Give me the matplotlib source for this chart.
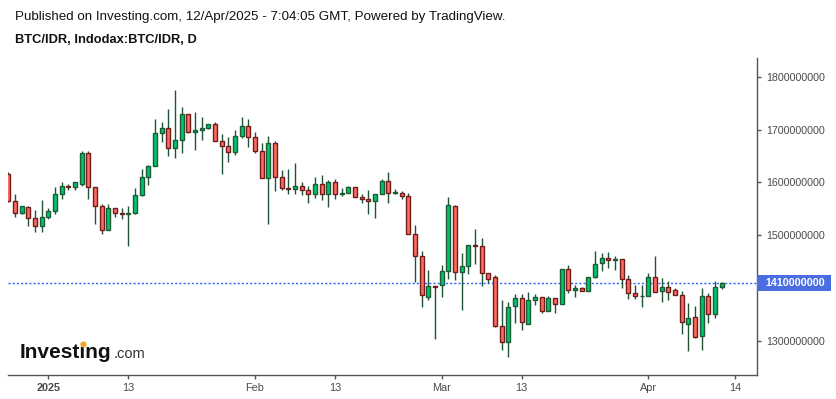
import numpy as np
import matplotlib
matplotlib.use('Agg')
import matplotlib.pyplot as plt
from matplotlib.patches import Rectangle

plt.rcParams['font.family'] = ['Liberation Sans', 'DejaVu Sans']

# ---------------- data (IDR, millions) ----------------
start_date = '2024-12-26'
opens = [1617, 1565, 1541.5, 1553, 1532, 1517, 1534, 1545, 1579, 1593, 1591, 1598, 1656, 1591, 1555, 1509,
         1551, 1541.5, 1539.5, 1543, 1576, 1610, 1631, 1693, 1703, 1665, 1680, 1729, 1695, 1699, 1703, 1710,
         1678, 1668.5, 1657, 1687.5, 1708, 1686, 1659, 1608, 1674, 1610, 1589, 1587, 1592.6, 1585, 1579, 1598,
         1577.5, 1600, 1577.5, 1581, 1591, 1572, 1568, 1564, 1579, 1602, 1581, 1581, 1574, 1501.7, 1460, 1382,
         1403, 1405, 1431.5, 1554.8, 1429.6, 1441, 1480.8, 1479, 1427.7, 1420, 1327.2, 1296.9, 1365, 1380.3,
         1331, 1376.5, 1382.2, 1355.7, 1380.3, 1368.9, 1435.3, 1395.5, 1399.2, 1393.6, 1420.1, 1446.7, 1456.1,
         1452.3, 1454.2, 1416.3, 1389.8, 1384.1, 1384.1, 1420.1, 1393.6, 1401.1, 1395.5, 1386, 1331, 1344.3,
         1308.2, 1384.1, 1349.9, 1401.1]
highs = [1620, 1579, 1556, 1555, 1548, 1567, 1551, 1591, 1601, 1597, 1601, 1660, 1660, 1591, 1560, 1560,
         1551, 1551, 1555, 1589, 1626, 1634, 1720, 1714, 1739, 1775, 1742.5, 1729, 1733, 1725, 1711, 1714,
         1691, 1686, 1699, 1725, 1720, 1695, 1674, 1687.5, 1678, 1623, 1625, 1636, 1600, 1592.6, 1610, 1613.5,
         1604, 1606, 1589, 1592.6, 1591, 1579, 1585, 1579, 1606, 1619, 1587, 1583, 1579.4, 1518.7, 1469.4, 1435,
         1404, 1443, 1571.8, 1556.7, 1465.6, 1481, 1511, 1494, 1427.7, 1424, 1376.5, 1372.7, 1387.9, 1387.9,
         1391.7, 1387.9, 1382.2, 1384, 1380.3, 1435.3, 1443, 1404.9, 1401, 1420.1, 1469.4, 1465.6, 1467.5,
         1459.9, 1454.2, 1423.9, 1404.9, 1404.9, 1427.7, 1459.9, 1418.2, 1412.5, 1399.2, 1393.6, 1370.8, 1365.1,
         1399.2, 1389.8, 1412.5, 1410.6]
lows = [1563, 1535, 1540, 1518, 1507, 1507, 1530, 1541, 1568, 1585, 1585, 1593, 1569, 1522, 1502, 1509,
        1534, 1530, 1479, 1540, 1574, 1595, 1631, 1677, 1651, 1647, 1656, 1693, 1662, 1681, 1702, 1678,
        1617, 1638, 1653, 1684, 1667, 1655, 1608, 1520.6, 1583, 1585, 1577.5, 1577.5, 1575.6, 1562, 1570, 1566,
        1553, 1568, 1574, 1581, 1572, 1562, 1539.6, 1532, 1579, 1562, 1577.5, 1568, 1501.6, 1410.6, 1363, 1376.5,
        1302.6, 1382, 1416.3, 1414.4, 1357.5, 1425.8, 1444.8, 1403, 1408.7, 1325.3, 1281.7, 1268.4, 1332.9, 1319.6,
        1331, 1367, 1351.9, 1355.7, 1351.9, 1368.9, 1389.8, 1382.2, 1393.6, 1393.6, 1418.2, 1431.5, 1437.2,
        1433.4, 1399.2, 1378.4, 1378.4, 1363.2, 1384.1, 1391.7, 1372.7, 1376.5, 1386, 1311.9, 1281, 1304.4,
        1282.9, 1332.9, 1342.4, 1397.3]
closes = [1565, 1541.5, 1555, 1532, 1517, 1534, 1545, 1579, 1593, 1591, 1600, 1656, 1591, 1555, 1509, 1551,
          1541.5, 1539.5, 1543, 1576, 1610, 1631, 1693, 1703, 1665, 1680, 1729, 1695, 1699, 1703, 1710, 1678,
          1668.5, 1657, 1687.5, 1708, 1686, 1659, 1608, 1674, 1610, 1589, 1587, 1592.6, 1585, 1579, 1598, 1577.5,
          1600, 1577.5, 1581, 1591, 1572, 1568, 1564, 1579, 1602, 1581, 1581.5, 1574, 1501.6, 1460, 1386, 1403,
          1402, 1431.5, 1556.7, 1429.6, 1441, 1480.8, 1479, 1427.7, 1416.3, 1327.2, 1296.9, 1363.2, 1380.3, 1334.8,
          1376.5, 1382.2, 1355.7, 1380.3, 1368.9, 1435.3, 1395.5, 1399.2, 1393.6, 1420.1, 1444.8, 1456.1, 1452.3,
          1454.2, 1416.3, 1389.8, 1384.1, 1384.1, 1420.1, 1391.7, 1401.1, 1391.7, 1386, 1334.8, 1342.4, 1306.3,
          1384.1, 1349.9, 1401.1, 1410]
last_price = 1410000000
y_ticks = [1300000000, 1400000000, 1500000000, 1600000000, 1700000000, 1800000000]
x_tick_dates = ['2025-01-01', '2025-01-13', '2025-02-01', '2025-02-13',
                '2025-03-01', '2025-03-13', '2025-04-01', '2025-04-14']
x_tick_labels = ['2025', '13', 'Feb', '13', 'Mar', '13', 'Apr', '14']
title_line1 = 'Published on Investing.com, 12/Apr/2025 - 7:04:05 GMT, Powered by TradingView.'
title_line2 = 'BTC/IDR, Indodax:BTC/IDR, D'

# ---------------- figure ----------------
W, H = 837, 399
fig = plt.figure(figsize=(W / 100, H / 100), dpi=100)
fig.patch.set_facecolor('white')
ax_l, ax_r, ax_t, ax_b = 8, 757, 58, 375
ax = fig.add_axes([ax_l / W, 1 - ax_b / H, (ax_r - ax_l) / W, (ax_b - ax_t) / H])

epoch = np.datetime64('2025-01-01')
O = np.array(opens) * 1e6
Hh = np.array(highs) * 1e6
L = np.array(lows) * 1e6
C = np.array(closes) * 1e6
n = len(O)
dates = np.datetime64(start_date) + np.arange(n)
x = (dates - epoch).astype(float)

up = C >= O
fill = np.where(up, '#00c46e', '#ff6b5e')
edge = np.where(up, '#1d5a35', '#6e1d1d')

ax.vlines(x, L, Hh, color='#1e5434', lw=1.0, zorder=2)
bottoms = np.minimum(O, C)
heights = np.abs(C - O)
ax.bar(x, heights, bottom=bottoms, width=0.62, color=fill, edgecolor=edge,
       linewidth=1.0, zorder=3)

ax.axhline(last_price, color='#2962ff', lw=1.0, ls=(0, (1.5, 1.5)), zorder=1)

ax.set_xlim(-6.05, 106.3)
ax.set_ylim(1235e6, 1836e6)

for s in ['top', 'left']:
    ax.spines[s].set_visible(False)
for s in ['right', 'bottom']:
    ax.spines[s].set_color('#555555')
    ax.spines[s].set_linewidth(1.0)

ax.yaxis.tick_right()
ax.set_yticks(y_ticks)
# the 1400000000 label is hidden under the last-price box in the reference
ax.set_yticklabels(['' if v == 1400000000 else str(v) for v in y_ticks])
ax.tick_params(axis='y', direction='out', length=3, width=1, pad=3.5,
               labelsize=7.7, colors='#555555', labelcolor='#4a4a4a')
xt = [(np.datetime64(d) - epoch).astype(float) for d in x_tick_dates]
ax.set_xticks(xt)
ax.set_xticklabels(x_tick_labels)
ax.tick_params(axis='x', direction='out', length=3, width=1, pad=3,
               labelsize=7.8, colors='#555555', labelcolor='#4a4a4a')
ax.get_xticklabels()[0].set_fontweight('bold')

# last price label box
fig.add_artist(Rectangle((757 / W, 1 - 290.5 / H), 74 / W, 16 / H,
                         transform=fig.transFigure, facecolor='#4a6de2',
                         edgecolor='none', zorder=10))
fig.text(765 / W, 1 - 282.5 / H, '1410000000', ha='left', va='center',
         color='white', fontsize=7.7, fontweight='bold', zorder=11)

# header
fig.text(15 / W, 1 - 17 / H, title_line1, ha='left', va='center',
         fontsize=9.6, color='#111111')
fig.text(15 / W, 1 - 40 / H, title_line2, ha='left', va='center',
         fontsize=9.3, fontweight='bold', color='#111111')

# watermark logo
fig.text(20 / W, 1 - 358 / H, 'Investing', ha='left', va='baseline',
         fontsize=15.0, fontweight='bold', color='#111111', zorder=5)
fig.text(114 / W, 1 - 358 / H, '.com', ha='left', va='baseline',
         fontsize=10.5, color='#333333', zorder=5)
fig.add_artist(plt.Line2D([83.5 / W], [1 - 344 / H], marker='o', markersize=4.4,
                          color='#f5a623', markeredgewidth=0,
                          transform=fig.transFigure, zorder=6))

fig.savefig('out.png', dpi=100, facecolor='white')
